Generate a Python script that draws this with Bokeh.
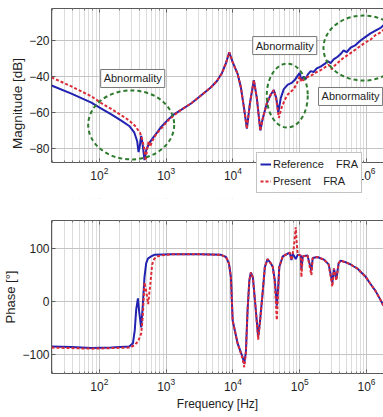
import numpy as np
from bokeh.plotting import figure
from bokeh.models import (Range1d, FixedTicker, Label, Legend, LegendItem,
                          LogAxis, BoxAnnotation)
from bokeh.layouts import column
from bokeh.embed import file_html
from bokeh.resources import INLINE

# ---------------- data (log10 of frequency in Hz) ----
mag_ref_logf = [1.284, 1.582, 1.881, 2.030, 2.179, 2.328, 2.448, 2.522, 2.567, 2.587,
                2.604, 2.627, 2.649, 2.676, 2.701, 2.746, 2.806, 2.866, 2.925, 3.015,
                3.119, 3.224, 3.373, 3.522, 3.672, 3.761, 3.836, 3.896, 3.945, 3.996,
                4.070, 4.119, 4.164, 4.209, 4.254, 4.313, 4.358, 4.410, 4.448, 4.507,
                4.567, 4.612, 4.649, 4.679, 4.716, 4.761, 4.821, 4.881, 4.925, 4.970,
                5.000, 5.022, 5.060, 5.090, 5.119, 5.164, 5.209, 5.254, 5.313, 5.373,
                5.418, 5.463, 5.507, 5.567, 5.612, 5.657, 5.701, 5.761, 5.836, 5.910,
                5.985, 6.060, 6.134, 6.209, 6.254]
mag_ref_db = [-45.0, -49.5, -54.5, -57.8, -61.0, -64.5, -67.5, -71.0, -76.0, -82.0,
              -79.0, -73.0, -78.0, -86.5, -81.0, -77.0, -74.0, -71.0, -68.0, -64.5,
              -61.0, -58.5, -55.0, -50.5, -46.0, -42.5, -38.0, -32.5, -26.5, -32.0,
              -38.5, -46.0, -57.0, -69.0, -55.0, -42.0, -52.0, -70.0, -63.0, -55.0,
              -50.0, -47.5, -52.0, -60.0, -52.0, -47.0, -44.5, -43.5, -42.0, -39.5,
              -38.0, -42.0, -40.0, -41.5, -39.0, -37.0, -37.5, -35.5, -34.5, -33.0,
              -31.5, -32.5, -30.5, -29.0, -27.5, -25.5, -26.5, -24.0, -22.5, -20.0,
              -18.0, -16.0, -14.5, -13.0, -11.5]

mag_pre_logf = [1.284, 1.582, 1.881, 2.030, 2.179, 2.328, 2.448, 2.537, 2.612, 2.642,
                2.672, 2.694, 2.716, 2.739, 2.761, 2.791, 2.851, 2.925, 3.015, 3.119,
                3.224, 3.373, 3.522, 3.672, 3.761, 3.836, 3.896, 3.945, 3.996, 4.070,
                4.119, 4.164, 4.209, 4.254, 4.313, 4.358, 4.410, 4.448, 4.507, 4.567,
                4.612, 4.649, 4.687, 4.731, 4.776, 4.821, 4.866, 4.910, 4.955, 5.000,
                5.030, 5.075, 5.134, 5.194, 5.254, 5.313, 5.373, 5.433, 5.478, 5.522,
                5.582, 5.642, 5.701, 5.761, 5.836, 5.910, 5.985, 6.060, 6.134, 6.209,
                6.254]
mag_pre_db = [-40.5, -45.5, -51.0, -54.8, -58.0, -61.5, -64.5, -67.5, -71.5, -75.0,
              -80.0, -86.7, -80.0, -76.0, -79.0, -76.0, -72.0, -69.0, -65.0, -61.5,
              -58.5, -55.0, -50.5, -46.0, -42.5, -38.0, -32.5, -26.5, -32.0, -38.5,
              -46.0, -57.0, -69.0, -55.0, -42.0, -52.0, -70.0, -63.0, -55.0, -50.0,
              -47.5, -53.0, -63.0, -57.0, -53.0, -50.0, -48.5, -47.0, -44.0, -40.0,
              -43.0, -41.0, -40.0, -39.0, -37.5, -36.5, -35.0, -33.5, -36.0, -34.0,
              -32.0, -30.0, -28.5, -27.0, -25.0, -23.0, -21.0, -19.5, -17.0, -15.5,
              -14.0]

ph_ref_logf = [1.284, 1.582, 1.881, 2.179, 2.448, 2.503, 2.530, 2.552, 2.578, 2.597,
               2.627, 2.649, 2.676, 2.701, 2.727, 2.776, 2.821, 3.075, 3.522, 3.821,
               3.896, 3.940, 3.970, 3.996, 4.070, 4.145, 4.169, 4.194, 4.219, 4.246,
               4.269, 4.299, 4.343, 4.378, 4.403, 4.443, 4.478, 4.518, 4.567, 4.597,
               4.627, 4.657, 4.679, 4.694, 4.746, 4.816, 4.851, 4.876, 4.896, 4.940,
               4.970, 5.015, 5.025, 5.045, 5.115, 5.175, 5.194, 5.264, 5.363, 5.433,
               5.488, 5.512, 5.548, 5.582, 5.612, 5.687, 5.761, 5.810, 5.866, 5.910,
               5.985, 6.060, 6.134, 6.209, 6.254]
ph_ref_deg = [-85, -86, -88, -87, -85, -79, -55, -15, 6, -20,
              -49, -10, 46, 72, 81, 85, 88, 89, 89, 88,
              84, 72, 46, -36, -79, -105, -117, -95, -17, 40,
              55, 45, -17, -67, -40, 14, 65, 80, 72, 65,
              40, -8, 30, 65, 85, 90, 92, 78, 90, 80,
              88, 87, 60, 85, 87, 58, 82, 84, 79, 70,
              35, 62, 42, 72, 77, 74, 70, 66, 62, 56,
              47, 33, 20, 3, -8]

ph_pre_logf = [1.284, 1.582, 1.881, 2.179, 2.448, 2.522, 2.582, 2.627, 2.649, 2.676,
               2.701, 2.731, 2.761, 2.791, 2.821, 2.866, 2.925, 3.075, 3.522, 3.821,
               3.896, 3.940, 3.970, 3.996, 4.070, 4.145, 4.169, 4.194, 4.219, 4.246,
               4.269, 4.299, 4.343, 4.378, 4.403, 4.443, 4.478, 4.518, 4.567, 4.597,
               4.627, 4.657, 4.679, 4.694, 4.746, 4.816, 4.851, 4.876, 4.896, 4.910,
               4.925, 4.940, 4.955, 4.970, 5.015, 5.025, 5.045, 5.115, 5.175, 5.194,
               5.264, 5.363, 5.433, 5.488, 5.512, 5.548, 5.582, 5.612, 5.687, 5.761,
               5.810, 5.866, 5.910, 5.985, 6.060, 6.134, 6.209, 6.254]
ph_pre_deg = [-87, -88, -89, -88, -87, -83, -75, -60, -30, 36,
              20, -5, 30, 70, 80, 85, 87, 89, 89, 88,
              84, 72, 46, -36, -79, -108, -124, -98, -17, 40,
              55, 45, -17, -72, -42, 14, 65, 80, 72, 65,
              35, -35, 25, 65, 85, 90, 92, 78, 92, 100,
              120, 140, 110, 88, 87, 46, 85, 87, 50, 82,
              84, 79, 70, 28, 62, 40, 72, 77, 74, 70,
              66, 62, 56, 47, 33, 20, 3, -8]

mag_ticks = [-80, -60, -40, -20]
phase_ticks = [-100, 0, 100]
legend_labels = ["Reference\u00a0\u00a0\u00a0\u00a0FRA", "Present\u00a0\u00a0\u00a0\u00a0FRA"]

# ---------------- styling ----------------
F0, F1 = 10 ** 1.284, 10 ** 6.254
MAG_LO, MAG_HI = -87.8, -2.2          # visible magnitude window
FONT = "Liberation Sans"
BLUE = "#2222b0"
RED = "#dc2a36"
GREEN = "#2e7a2e"
TXT = "#1e1e1e"
EDGE = "#5a5a5a"


def style_axis(ax, size="11px"):
    ax.axis_line_color = EDGE
    ax.major_tick_in = 4
    ax.major_tick_out = 0
    ax.minor_tick_in = 2
    ax.minor_tick_out = 0
    ax.major_tick_line_color = EDGE
    ax.minor_tick_line_color = "#777777"
    ax.major_label_text_font = FONT
    ax.major_label_text_font_size = size
    ax.major_label_text_color = TXT
    ax.axis_label_text_font = FONT
    ax.axis_label_text_font_style = "normal"
    ax.axis_label_text_color = TXT


def make_fig(height, yr, yticks, ylabel, ylabel_size, btop, bbot):
    p = figure(width=383, height=height, x_axis_type="log",
               x_range=Range1d(F0, F1), y_range=Range1d(*yr),
               output_backend="svg", toolbar_location=None,
               min_border_left=50, min_border_right=0,
               min_border_top=btop, min_border_bottom=bbot)
    p.outline_line_color = None
    xb = p.xaxis[0]
    yl = p.yaxis[0]
    p.xgrid.grid_line_color = "#c4c4c4"
    p.xgrid.minor_grid_line_color = "#dcdcdc"
    p.ygrid.grid_line_color = "#c4c4c4"
    p.ygrid.ticker = FixedTicker(ticks=yticks)
    yl.ticker = FixedTicker(ticks=yticks)
    style_axis(xb, "12px")
    style_axis(yl, "12px")
    xb.major_label_standoff = 4
    yl.major_label_standoff = 2
    yl.axis_label = ylabel
    yl.axis_label_text_font_size = ylabel_size
    yl.axis_label_standoff = 1
    top = LogAxis()
    style_axis(top)
    top.major_label_text_font_size = "1px"
    top.major_label_text_color = None
    top.major_label_standoff = 0
    p.add_layout(top, "above")
    return p, xb, yl


# ---------------- magnitude ----------------
p1, xb1, yl1 = make_fig(208, (-107.8, MAG_HI), mag_ticks, "Magnitude [dB]", "13.5px", 8, 10)
yl1.bounds = (MAG_LO, MAG_HI)
xb1.fixed_location = MAG_LO
# blank strip under the magnitude axes (holds tick labels and legend)
p1.add_layout(BoxAnnotation(top=MAG_LO, fill_color="white", fill_alpha=1.0,
                            line_color=None, level="underlay"))

r1 = p1.line(10 ** np.array(mag_ref_logf), mag_ref_db, line_color=BLUE, line_width=2)
r2 = p1.line(10 ** np.array(mag_pre_logf), mag_pre_db, line_color=RED, line_width=2,
             line_dash="3 2")
p1.ellipse(x=[300, 65000, 9.0e5], y=[-66.9, -50.6, -24.2],
           width=[86, 41, 80], height=[69, 64, 65],
           width_units="screen", height_units="screen",
           fill_color=None, line_color=GREEN, line_width=2, line_dash="4 3")
for (lx, ly) in [(316, -41.1), (59700, -22.8), (5.77e5, -51.1)]:
    p1.add_layout(Label(x=lx, y=ly, text="Abnormality", text_align="center",
                        text_baseline="middle", text_font=FONT,
                        text_font_size="11px", text_color=TXT, padding=3,
                        border_line_color="#777777", background_fill_color="white"))

legend = Legend(items=[LegendItem(label=legend_labels[0], renderers=[r1]),
                       LegendItem(label=legend_labels[1], renderers=[r2])],
                location=(205, 5), orientation="vertical",
                label_text_font=FONT, label_text_font_size="11px",
                label_text_color=TXT, glyph_width=11, glyph_height=16,
                label_height=16, label_standoff=2, spacing=1, padding=3,
                margin=0, border_line_color="#888888",
                background_fill_color="white", background_fill_alpha=1.0)
p1.add_layout(legend)

# ---------------- phase ----------------
p2, xb2, yl2 = make_fig(209, (-135.9, 152.8), phase_ticks, "Phase [°]", "13px", 12, 44)
xb2.axis_label = "Frequency [Hz]"
xb2.axis_label_text_font_size = "12px"
xb2.axis_label_standoff = 3
p2.line(10 ** np.array(ph_ref_logf), ph_ref_deg, line_color=BLUE, line_width=2)
p2.line(10 ** np.array(ph_pre_logf), ph_pre_deg, line_color=RED, line_width=2,
        line_dash="3 2")

layout = column(p1, p2, spacing=0)
open("out.html", "w").write(file_html(layout, INLINE))
